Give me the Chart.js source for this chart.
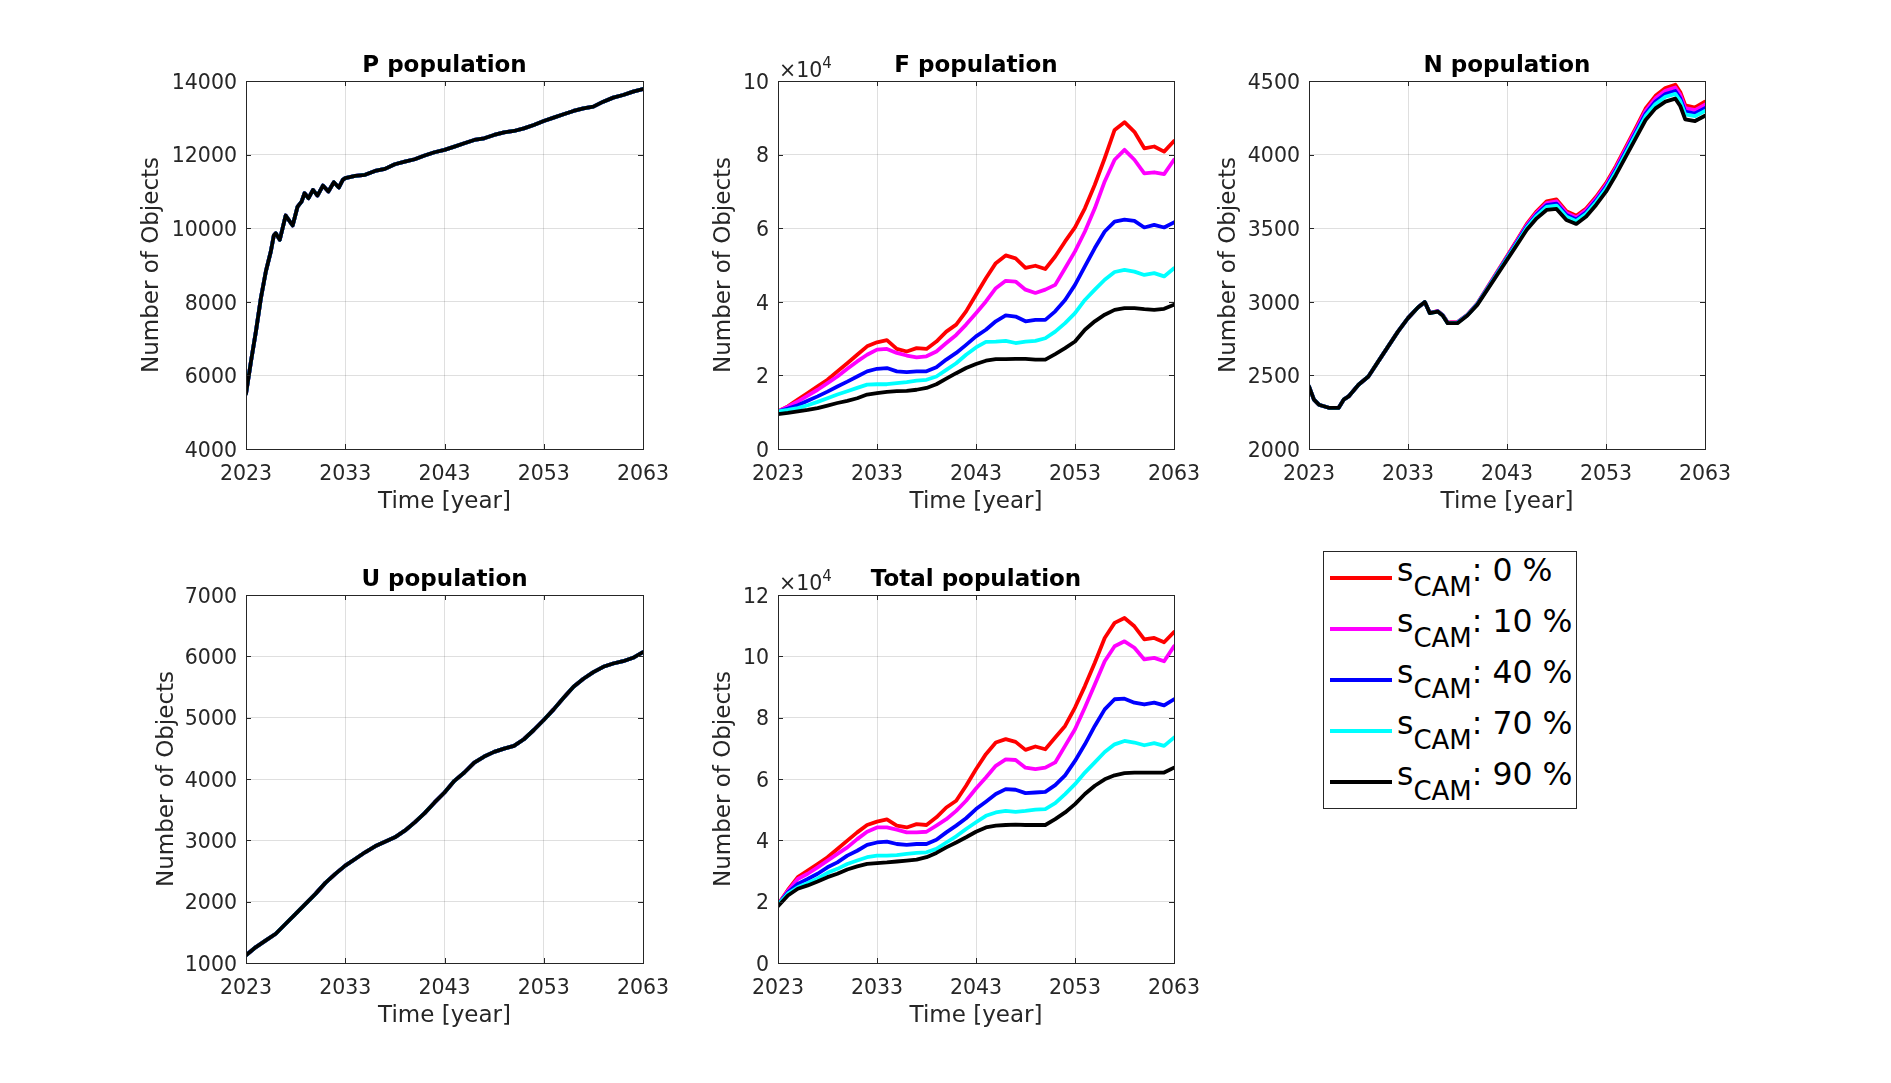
<!DOCTYPE html>
<html>
<head>
<meta charset="utf-8">
<title>Population per object class</title>
<script src="https://cdn.jsdelivr.net/npm/chart.js@4/dist/chart.umd.min.js"></script>
<style>
  body { margin: 0; background: #fff; }
  #page { position: relative; width: 1891px; height: 1083px; overflow: hidden; font-family: 'DejaVu Sans', sans-serif; }
  canvas { position: absolute; }
  .exp { position: absolute; font-size: 20.5px; line-height: 20.5px; color: #262626; white-space: nowrap; }
  .exp sup { font-size: 15px; vertical-align: 9px; line-height: 0; }
  #legend { position: absolute; left: 1323px; top: 551px; width: 254px; height: 258px; box-sizing: border-box; border: 1px solid #262626; background: #fff; }
  .swatch { position: absolute; left: 6px; width: 62px; height: 4px; }
  .entry { position: absolute; left: 73px; font-size: 31.5px; line-height: 31.5px; color: #000; white-space: nowrap; }
  .entry sub { font-size: 26px; vertical-align: -15px; line-height: 0; }
</style>
</head>
<body>
<div id="page">
  <canvas id="pChart" width="545" height="486" style="left:138px; top:30px;"></canvas>
  <canvas id="fChart" width="504" height="486" style="left:710px; top:30px;"></canvas>
  <canvas id="nChart" width="530" height="486" style="left:1215px; top:30px;"></canvas>
  <canvas id="uChart" width="530" height="486" style="left:153px; top:544px;"></canvas>
  <canvas id="tChart" width="504" height="486" style="left:710px; top:544px;"></canvas>
  <div class="exp" style="left:779px; top:60px;">×10<sup>4</sup></div>
  <div class="exp" style="left:779px; top:573px;">×10<sup>4</sup></div>
  <div id="legend"></div>
</div>
<script>
// series (CAM share) and their colours
const seriesLabels = ['0 %', '10 %', '40 %', '70 %', '90 %'];
const seriesColors = ['#ff0000', '#ff00ff', '#0000ff', '#00ffff', '#000000'];

// x axis
const yearTicks = [2023, 2033, 2043, 2053, 2063];
const years = [2023, 2024, 2025, 2026, 2027, 2028, 2029, 2030, 2031, 2032,
  2033, 2034, 2035, 2036, 2037, 2038, 2039, 2040, 2041, 2042,
  2043, 2044, 2045, 2046, 2047, 2048, 2049, 2050, 2051, 2052,
  2053, 2054, 2055, 2056, 2057, 2058, 2059, 2060, 2061, 2062, 2063];

// y ticks
const pTicks = [4000, 6000, 8000, 10000, 12000, 14000];
const fTicks = [0, 20000, 40000, 60000, 80000, 100000];
const fTickLabels = ['0', '2', '4', '6', '8', '10'];
const nTicks = [2000, 2500, 3000, 3500, 4000, 4500];
const uTicks = [1000, 2000, 3000, 4000, 5000, 6000, 7000];
const tTicks = [0, 20000, 40000, 60000, 80000, 100000, 120000];
const tTickLabels = ['0', '2', '4', '6', '8', '10', '12'];

// P population: the five curves overlap, one reading for all of them
const pYears = [2023, 2023.5, 2024, 2024.5, 2025, 2025.5, 2025.8, 2026, 2026.4, 2027, 2027.7,
  2028.2, 2028.6, 2028.9, 2029.3, 2029.75, 2030.2, 2030.75, 2031.3, 2031.85, 2032.35, 2032.75,
  2033, 2034, 2035, 2036, 2037, 2038, 2039, 2040, 2041, 2042,
  2043, 2044, 2045, 2046, 2047, 2048, 2049, 2050, 2051, 2052,
  2053, 2054, 2055, 2056, 2057, 2058, 2059, 2060, 2061, 2062, 2063];
const pValues = [5500, 6380, 7195, 8100, 8824, 9367, 9800, 9864, 9683, 10344, 10073,
  10588, 10724, 10950, 10815, 11041, 10887, 11159, 10996, 11249, 11104, 11312,
  11360, 11420, 11450, 11557, 11612, 11738, 11810, 11874, 11974, 12064,
  12127, 12217, 12308, 12398, 12443, 12534, 12606, 12642, 12714, 12805,
  12914, 13005, 13095, 13186, 13258, 13303, 13439, 13548, 13620, 13710, 13783];

// F population
const fRed = [10200, 11600, 13400, 15200, 17000, 18800, 21100, 23300, 25600, 27900,
  29000, 29600, 27200, 26500, 27400, 27200, 29200, 31900, 33800, 37400,
  41900, 46400, 50500, 52600, 51800, 49200, 49800, 48900, 52300, 56400,
  60200, 65400, 71800, 79000, 86700, 88800, 86200, 81700, 82200, 80800, 83700];
const fMagenta = [10200, 11500, 12900, 14500, 16100, 17900, 19700, 21800, 23800, 25600,
  27000, 27200, 26100, 25400, 24900, 25200, 26500, 28800, 31000, 33800,
  36900, 40100, 43700, 45700, 45500, 43300, 42400, 43300, 44600, 49100,
  53700, 59100, 65400, 72700, 78600, 81300, 78600, 74900, 75200, 74700, 78600];
const fBlue = [10200, 11000, 11900, 13100, 14300, 15600, 17000, 18300, 19700, 21100,
  21800, 22000, 21100, 20900, 21100, 21100, 22200, 24300, 26100, 28300,
  30600, 32400, 34700, 36300, 36000, 34700, 35100, 35100, 37400, 40500,
  44600, 49600, 54600, 59100, 61800, 62300, 62000, 60200, 60900, 60200, 61600];
const fCyan = [10200, 10600, 11100, 11900, 12800, 13800, 14800, 15700, 16600, 17500,
  17600, 17600, 17900, 18200, 18600, 18800, 19700, 21500, 23300, 25600,
  27600, 29100, 29200, 29400, 28800, 29200, 29400, 30100, 31900, 34200,
  36900, 40500, 43300, 46000, 48100, 48700, 48200, 47300, 47800, 46900, 49100];
const fBlack = [9500, 9800, 10200, 10600, 11100, 11800, 12500, 13100, 13800, 14800,
  15200, 15500, 15700, 15800, 16100, 16600, 17600, 19100, 20600, 22000,
  23100, 24000, 24400, 24400, 24500, 24500, 24300, 24300, 25800, 27400,
  29200, 32400, 34700, 36500, 37800, 38300, 38300, 38000, 37800, 38100, 39200];

// N population
const nYears = [2023, 2023.5, 2024, 2025, 2026, 2026.5, 2027, 2028, 2029, 2030, 2031, 2032,
  2033, 2034, 2034.7, 2035.2, 2036, 2036.5, 2037, 2038, 2039, 2040, 2041, 2042,
  2043, 2044, 2045, 2046, 2047, 2048, 2049, 2050, 2051, 2052,
  2053, 2054, 2055, 2056, 2057, 2058, 2059, 2060, 2060.5, 2061, 2062, 2063];
const nRed = [2425, 2335, 2301, 2280, 2280, 2335, 2357, 2437, 2493, 2595, 2697, 2799,
  2889, 2961, 2998, 2925, 2937, 2911, 2860, 2862, 2912, 2989, 3096, 3203,
  3310, 3419, 3529, 3615, 3682, 3696, 3616, 3584, 3634, 3713,
  3806, 3922, 4051, 4180, 4313, 4399, 4452, 4475, 4425, 4335, 4320, 4359];
const nMagenta = [2425, 2335, 2301, 2280, 2280, 2335, 2357, 2437, 2493, 2595, 2697, 2799,
  2889, 2961, 2998, 2924, 2936, 2910, 2859, 2861, 2911, 2987, 3093, 3199,
  3305, 3413, 3521, 3605, 3670, 3683, 3604, 3573, 3623, 3702,
  3794, 3910, 4038, 4166, 4297, 4382, 4434, 4456, 4406, 4316, 4302, 4340];
const nBlue = [2425, 2335, 2301, 2280, 2280, 2335, 2357, 2437, 2493, 2595, 2697, 2799,
  2889, 2961, 2998, 2924, 2935, 2909, 2857, 2859, 2910, 2985, 3089, 3194,
  3299, 3405, 3511, 3593, 3656, 3667, 3589, 3559, 3609, 3688,
  3780, 3895, 4022, 4149, 4278, 4361, 4411, 4432, 4382, 4292, 4279, 4316];
const nCyan = [2425, 2335, 2301, 2280, 2280, 2335, 2357, 2437, 2493, 2595, 2697, 2799,
  2889, 2961, 2998, 2923, 2934, 2908, 2856, 2857, 2909, 2983, 3086, 3190,
  3294, 3398, 3503, 3584, 3644, 3654, 3577, 3548, 3598, 3677,
  3768, 3883, 4009, 4135, 4262, 4344, 4393, 4413, 4363, 4273, 4261, 4297];
const nBlack = [2425, 2335, 2301, 2280, 2280, 2335, 2357, 2437, 2493, 2595, 2697, 2799,
  2889, 2961, 2998, 2923, 2934, 2907, 2855, 2855, 2907, 2979, 3081, 3183,
  3285, 3387, 3489, 3567, 3624, 3631, 3556, 3529, 3579, 3658,
  3748, 3862, 3986, 4110, 4235, 4314, 4360, 4380, 4330, 4240, 4228, 4264];

// U population: the five curves overlap, one reading for all of them
const uValues = [1125, 1260, 1369, 1477, 1640, 1802, 1965, 2127, 2306, 2453,
  2588, 2696, 2805, 2902, 2978, 3049, 3157, 3293, 3444, 3618,
  3780, 3970, 4106, 4268, 4366, 4442, 4496, 4539, 4648, 4799,
  4962, 5135, 5325, 5504, 5634, 5742, 5829, 5883, 5921, 5976, 6068];

// Total population
const tRed = [19000, 23800, 28000, 30100, 32300, 34500, 37200, 39900, 42600, 45000,
  46100, 46800, 44800, 44200, 45300, 45000, 47500, 50700, 52900, 57800,
  63200, 68100, 71900, 73000, 72100, 69500, 70600, 69700, 73500, 77300,
  83300, 90300, 97900, 106000, 110900, 112500, 109800, 105500, 106000, 104600, 107900];
const tMagenta = [19000, 23500, 27400, 29100, 31200, 33400, 35600, 37700, 40400, 42800,
  44200, 44200, 43500, 42600, 42600, 42800, 44800, 46900, 49600, 52900,
  56900, 60500, 64300, 66400, 66200, 63700, 63200, 63700, 65400, 70800,
  76200, 83300, 90800, 98400, 103300, 104900, 102800, 99000, 99500, 98400, 103300];
const tBlue = [19000, 23000, 25800, 27400, 29100, 31200, 32800, 35000, 36600, 38500,
  39300, 39600, 38800, 38500, 38800, 38800, 40200, 42600, 44800, 47200,
  50200, 52600, 55100, 56700, 56500, 55400, 55600, 55800, 58000, 61200,
  65900, 71300, 77300, 82700, 86000, 86200, 84900, 84300, 84900, 84000, 86000];
const tCyan = [19000, 22600, 24700, 26100, 27600, 29400, 30700, 32300, 33400, 34500,
  35000, 35000, 35200, 35600, 35900, 36100, 37200, 39300, 41300, 43700,
  45900, 48000, 49100, 49600, 49300, 49600, 50000, 50200, 52100, 55100,
  58300, 62100, 65400, 68800, 71300, 72400, 71900, 71000, 71700, 70800, 73500];
const tBlack = [18500, 22000, 24200, 25300, 26600, 28000, 29100, 30500, 31500, 32300,
  32600, 32800, 33100, 33400, 33700, 34500, 35900, 37700, 39300, 41000,
  42800, 44200, 44800, 45000, 45100, 45000, 45000, 45000, 46900, 49100,
  51800, 55100, 57800, 59900, 61200, 61900, 62100, 62100, 62100, 62100, 63700];

const FONT = "'DejaVu Sans', sans-serif";
const TEXT = '#262626';

// box round the axes and the small inward ticks, like the original
const axesBox = {
  id: 'axesBox',
  afterDraw(chart) {
    const { ctx, chartArea: a, scales } = chart;
    ctx.save();
    ctx.strokeStyle = TEXT;
    ctx.lineWidth = 1;
    ctx.beginPath();
    scales.x.ticks.forEach(t => {
      const px = Math.round(scales.x.getPixelForValue(t.value)) + 0.5;
      ctx.moveTo(px, a.bottom); ctx.lineTo(px, a.bottom - 5);
      ctx.moveTo(px, a.top); ctx.lineTo(px, a.top + 5);
    });
    scales.y.ticks.forEach(t => {
      const py = Math.round(scales.y.getPixelForValue(t.value)) + 0.5;
      ctx.moveTo(a.left, py); ctx.lineTo(a.left + 5, py);
      ctx.moveTo(a.right, py); ctx.lineTo(a.right - 5, py);
    });
    ctx.stroke();
    ctx.strokeRect(Math.round(a.left) + 0.5, Math.round(a.top) + 0.5,
      Math.round(a.width), Math.round(a.height));
    ctx.restore();
  }
};

function makePanel(id, title, xs, series, yTicks, yLabels, yWidth) {
  new Chart(document.getElementById(id), {
    type: 'line',
    data: {
      datasets: series.map((vals, i) => ({
        label: 'sCAM: ' + seriesLabels[i],
        data: xs.map((x, j) => ({ x: x, y: vals[j] })),
        borderColor: seriesColors[i],
        backgroundColor: seriesColors[i],
        borderWidth: 3.8,
        borderJoinStyle: 'round',
        borderCapStyle: 'round',
        pointRadius: 0,
        tension: 0,
        fill: false,
        order: seriesLabels.length - i
      }))
    },
    options: {
      responsive: false,
      animation: false,
      devicePixelRatio: 1,
      layout: { padding: { left: 0, right: 40, top: 0, bottom: 0 } },
      scales: {
        x: {
          type: 'linear',
          min: 2023,
          max: 2063,
          afterBuildTicks: axis => { axis.ticks = yearTicks.map(v => ({ value: v })); },
          afterFit: axis => { axis.height = 67; },
          grid: { color: 'rgba(38,38,38,0.15)', drawTicks: false },
          border: { display: false },
          ticks: {
            color: TEXT, font: { family: FONT, size: 20.5 }, padding: 13.5,
            maxRotation: 0, autoSkip: false,
            callback: v => String(v)
          },
          title: { display: true, text: 'Time [year]', color: TEXT, font: { family: FONT, size: 23 }, padding: 0 }
        },
        y: {
          type: 'linear',
          min: yTicks[0],
          max: yTicks[yTicks.length - 1],
          afterBuildTicks: axis => { axis.ticks = yTicks.map(v => ({ value: v })); },
          afterFit: axis => { axis.width = yWidth; },
          grid: { color: 'rgba(38,38,38,0.15)', drawTicks: false },
          border: { display: false },
          ticks: {
            color: TEXT, font: { family: FONT, size: 20.5 }, padding: 9, autoSkip: false,
            labelOffset: 2.4,
            callback: (v, i) => yLabels[i]
          },
          title: { display: true, text: 'Number of Objects', color: TEXT, font: { family: FONT, size: 23 }, padding: 0 }
        }
      },
      plugins: {
        legend: { display: false },
        tooltip: { enabled: false },
        title: {
          display: true, text: title, color: '#000', fullSize: false,
          font: { family: FONT, size: 23, weight: 'bold' },
          padding: { top: 22.6, bottom: 0.8 }
        }
      }
    },
    plugins: [axesBox]
  });
}

makePanel('pChart', 'P population', pYears, [pValues, pValues, pValues, pValues, pValues],
  pTicks, pTicks.map(String), 108);
makePanel('fChart', 'F population', years, [fRed, fMagenta, fBlue, fCyan, fBlack],
  fTicks, fTickLabels, 68);
makePanel('nChart', 'N population', nYears, [nRed, nMagenta, nBlue, nCyan, nBlack],
  nTicks, nTicks.map(String), 94);
makePanel('uChart', 'U population', years, [uValues, uValues, uValues, uValues, uValues],
  uTicks, uTicks.map(String), 93);
makePanel('tChart', 'Total population', years, [tRed, tMagenta, tBlue, tCyan, tBlack],
  tTicks, tTickLabels, 68);

// legend with the CAM subscript
const legend = document.getElementById('legend');
seriesLabels.forEach((lab, i) => {
  const sw = document.createElement('div');
  sw.className = 'swatch';
  sw.style.top = (24 + 51 * i) + 'px';
  sw.style.background = seriesColors[i];
  legend.appendChild(sw);
  const en = document.createElement('div');
  en.className = 'entry';
  en.style.top = (3 + 51 * i) + 'px';
  en.innerHTML = 's<sub>CAM</sub>: ' + lab;
  legend.appendChild(en);
});
</script>
</body>
</html>
